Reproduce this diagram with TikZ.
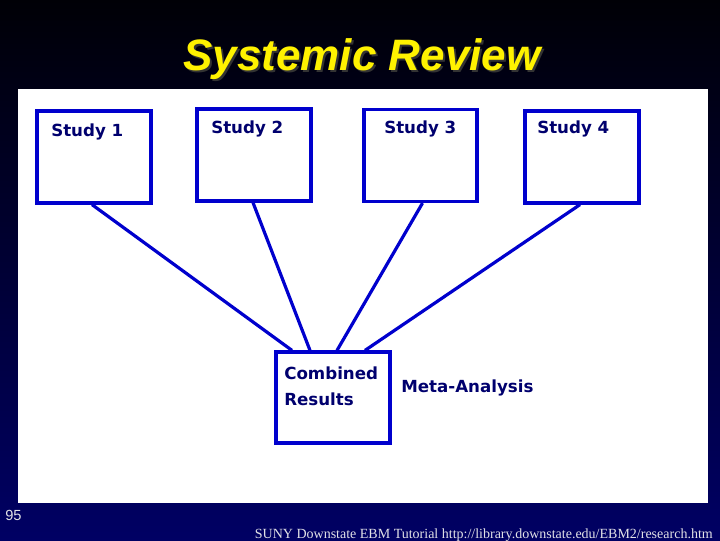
\documentclass[tikz,border=0pt]{standalone}
\usepackage{fontspec}
\setmainfont{Liberation Serif}
\newfontfamily\boxfont{DejaVu Sans}
\newfontfamily\titlefont{Liberation Sans}
\definecolor{boxblue}{RGB}{0,0,205}
\definecolor{txtnavy}{RGB}{0,0,110}
\definecolor{bgtop}{RGB}{0,0,6}
\definecolor{bgbot}{RGB}{0,0,100}
\definecolor{foot}{RGB}{225,225,230}
\tikzset{
  studybox/.style={draw=boxblue, line width=2.4pt, fill=white, minimum width=85.5pt, minimum height=69pt, inner sep=0pt},
  boxtext/.style={font=\boxfont\bfseries\fontsize{12.5}{15}\selectfont, text=txtnavy, inner sep=0pt, anchor=base west},
  link/.style={draw=boxblue, line width=2.4pt}
}
\begin{document}
\begin{tikzpicture}[x=0.75pt,y=-0.75pt]
\useasboundingbox (0,0) rectangle (720,540);
\shade[top color=bgtop, bottom color=bgbot] (0,0) rectangle (720,540);
% title
\node[font=\titlefont\bfseries\itshape\fontsize{33}{38}\selectfont, text=black!80, anchor=base, inner sep=0pt] at (364,72) {Systemic Review};
\node[font=\titlefont\bfseries\itshape\fontsize{33}{38}\selectfont, text=yellow, anchor=base, inner sep=0pt] (title) at (362,70) {Systemic Review};
% panel
\fill[white] (18,89) rectangle (708,503);
% boxes
\node[studybox] (S1) at (94,157) {};
\node[studybox] (S2) at (254,155) {};
\node[studybox, minimum width=84.75pt] (S3) at (420.5,155.5) {};
\node[studybox] (S4) at (582,157) {};
\node[studybox, minimum height=68.25pt] (C) at (333,397.5) {};
% labels
\node[boxtext] (t1) at (51,136) {Study 1};
\node[boxtext] (t2) at (211,133) {Study 2};
\node[boxtext] (t3) at (384,133) {Study 3};
\node[boxtext] (t4) at (537,133) {Study 4};
\node[boxtext] (tc1) at (284,379) {Combined};
\node[boxtext] (tc2) at (284,405) {Results};
\node[boxtext] (tm) at (401,392) {Meta-Analysis};
% links
\draw[link] ([xshift=-1.5pt]S1.south) -- ([xshift=-30.75pt]C.north);
\draw[link] ([xshift=-0.75pt]S2.south) -- ([xshift=-17.25pt]C.north);
\draw[link] ([xshift=1.5pt]S3.south) -- ([xshift=3pt]C.north);
\draw[link] ([xshift=-1.5pt]S4.south) -- ([xshift=24pt]C.north);
% footer
\node[font=\titlefont\fontsize{11}{13}\selectfont, text=foot, anchor=base west, inner sep=0pt] (num) at (5,520) {95};
\node[font=\fontsize{10.5}{12}\selectfont, text=foot, anchor=base east, inner sep=0pt] (foot) at (713,538) {SUNY Downstate EBM Tutorial http://library.downstate.edu/EBM2/research.htm};
\end{tikzpicture}
\end{document}
